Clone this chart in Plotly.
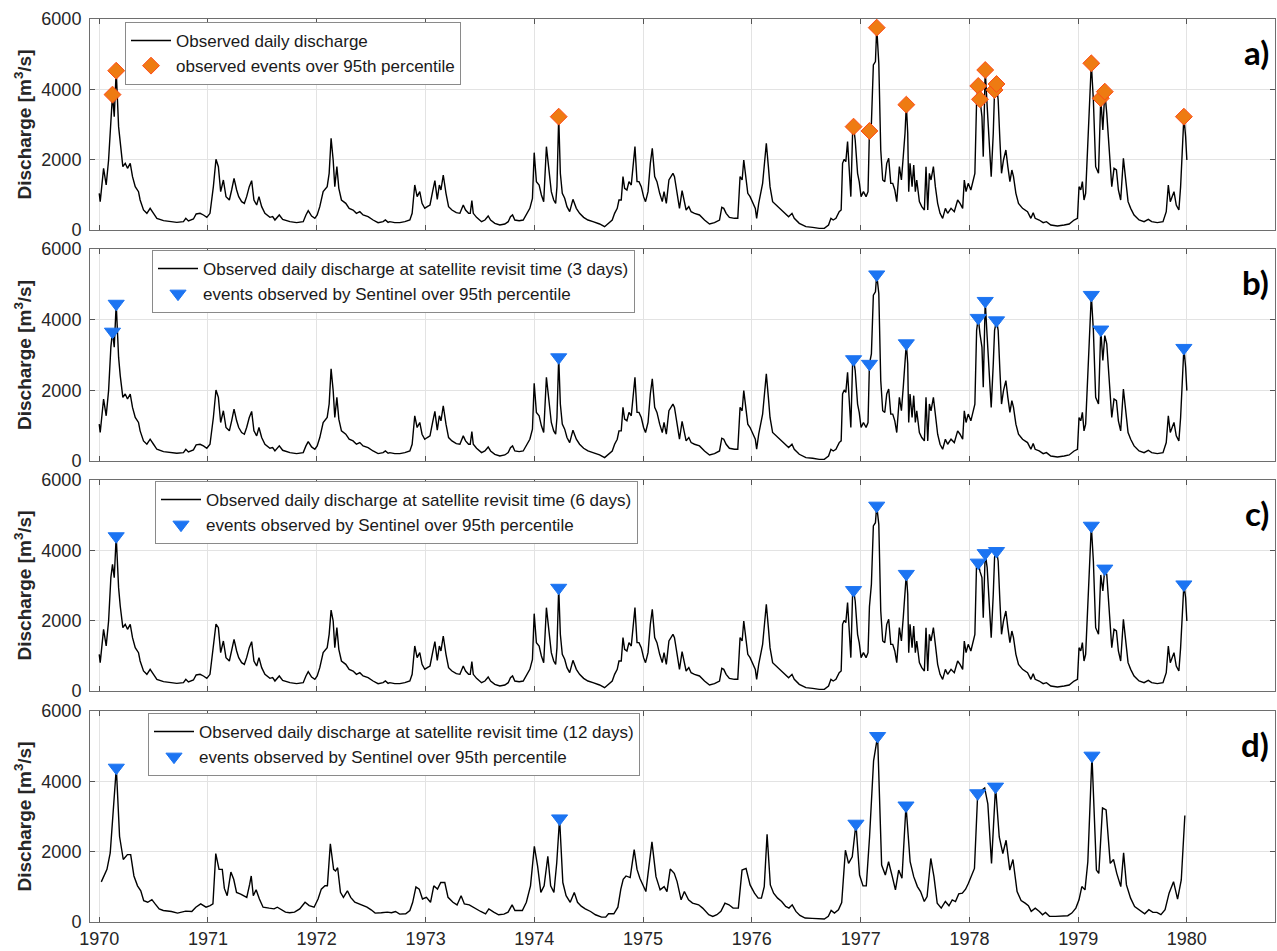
import pandas as pd
import plotly.graph_objects as go
from plotly.subplots import make_subplots

# ---------------- data (decimal year, discharge m3/s) ----------------
# Observed daily discharge
obs_t = [
 1970.000,1970.009,1970.040,1970.064,1970.086,1970.107,1970.122,1970.138,1970.156,1970.178,
 1970.193,1970.217,1970.239,1970.260,1970.285,1970.306,1970.331,1970.361,1970.376,1970.407,
 1970.438,1970.468,1970.499,1970.530,1970.591,1970.652,1970.713,1970.774,1970.796,1970.820,
 1970.866,1970.891,1970.927,1970.958,1970.989,1971.019,1971.050,1971.074,1971.096,1971.117,
 1971.142,1971.166,1971.197,1971.218,1971.240,1971.264,1971.283,1971.310,1971.335,1971.356,
 1971.380,1971.402,1971.423,1971.448,1971.469,1971.494,1971.524,1971.570,1971.595,1971.616,
 1971.656,1971.687,1971.754,1971.815,1971.876,1971.901,1971.922,1971.953,1971.983,1972.005,
 1972.029,1972.060,1972.075,1972.097,1972.115,1972.133,1972.152,1972.167,1972.186,1972.204,
 1972.228,1972.268,1972.299,1972.335,1972.366,1972.397,1972.427,1972.473,1972.519,1972.565,
 1972.611,1972.632,1972.657,1972.672,1972.718,1972.765,1972.811,1972.857,1972.878,1972.902,
 1972.924,1972.948,1972.969,1972.994,1973.015,1973.040,1973.064,1973.085,1973.107,1973.126,
 1973.141,1973.162,1973.187,1973.211,1973.242,1973.282,1973.315,1973.346,1973.367,1973.395,
 1973.410,1973.425,1973.438,1973.468,1973.514,1973.545,1973.575,1973.597,1973.636,1973.682,
 1973.728,1973.759,1973.780,1973.799,1973.820,1973.860,1973.897,1973.928,1973.958,1973.982,
 1973.998,1974.019,1974.044,1974.065,1974.086,1974.111,1974.132,1974.156,1974.178,1974.196,
 1974.208,1974.224,1974.239,1974.257,1974.279,1974.300,1974.325,1974.355,1974.386,1974.416,
 1974.453,1974.493,1974.539,1974.600,1974.646,1974.686,1974.716,1974.738,1974.762,1974.778,
 1974.799,1974.815,1974.830,1974.851,1974.870,1974.891,1974.907,1974.925,1974.944,1974.962,
 1974.983,1975.005,1975.023,1975.046,1975.067,1975.085,1975.107,1975.128,1975.153,1975.177,
 1975.193,1975.214,1975.238,1975.256,1975.275,1975.289,1975.311,1975.335,1975.359,1975.377,
 1975.396,1975.421,1975.442,1975.473,1975.519,1975.565,1975.611,1975.657,1975.703,1975.724,
 1975.742,1975.764,1975.794,1975.840,1975.871,1975.892,1975.911,1975.926,1975.941,1975.963,
 1975.984,1976.009,1976.033,1976.045,1976.064,1976.100,1976.116,1976.134,1976.153,1976.168,
 1976.192,1976.223,1976.254,1976.299,1976.339,1976.370,1976.391,1976.437,1976.498,1976.560,
 1976.621,1976.667,1976.706,1976.728,1976.749,1976.774,1976.804,1976.822,1976.835,1976.850,
 1976.865,1976.881,1976.896,1976.911,1976.927,1976.936,1976.951,1976.973,1976.988,1977.003,
 1977.025,1977.049,1977.067,1977.080,1977.098,1977.116,1977.135,1977.147,1977.166,1977.184,
 1977.202,1977.221,1977.239,1977.257,1977.276,1977.294,1977.313,1977.331,1977.355,1977.374,
 1977.392,1977.407,1977.419,1977.432,1977.441,1977.453,1977.472,1977.487,1977.502,1977.515,
 1977.539,1977.561,1977.585,1977.600,1977.616,1977.631,1977.646,1977.668,1977.686,1977.707,
 1977.729,1977.753,1977.778,1977.799,1977.830,1977.860,1977.891,1977.913,1977.937,1977.952,
 1977.968,1977.988,1978.013,1978.035,1978.050,1978.066,1978.081,1978.097,1978.115,1978.127,
 1978.145,1978.163,1978.182,1978.200,1978.219,1978.231,1978.249,1978.264,1978.280,1978.295,
 1978.313,1978.335,1978.353,1978.372,1978.390,1978.405,1978.427,1978.451,1978.488,1978.534,
 1978.565,1978.586,1978.604,1978.641,1978.678,1978.708,1978.748,1978.809,1978.871,1978.917,
 1978.962,1978.993,1979.008,1979.024,1979.039,1979.054,1979.069,1979.094,1979.121,1979.140,
 1979.161,1979.187,1979.208,1979.227,1979.245,1979.263,1979.284,1979.309,1979.330,1979.352,
 1979.370,1979.391,1979.416,1979.437,1979.459,1979.483,1979.514,1979.560,1979.606,1979.645,
 1979.676,1979.728,1979.780,1979.810,1979.829,1979.847,1979.865,1979.881,1979.902,1979.926,
 1979.942,1979.957,1979.972,1979.988,1980.000]
obs_q = [
 1043,806,1754,1280,1991,3223,3850,3223,4530,2939,
 2417,1801,1896,1754,1896,1517,1232,1090,853,569,
 474,616,474,332,265,237,218,237,332,256,
 313,455,474,427,360,474,1232,2010,1801,1090,
 1422,948,853,1138,1469,1138,948,806,758,948,
 1232,1403,853,711,948,664,474,360,379,284,
 427,303,237,209,237,427,550,398,332,427,
 664,1090,1138,1232,1612,2607,1991,1232,1801,1185,
 853,758,616,569,474,521,427,379,284,209,
 237,284,218,237,209,209,237,284,474,1280,
 948,1090,758,616,664,711,1090,1403,872,1280,
 1138,1564,1043,664,569,493,474,711,569,474,
 474,834,474,360,237,284,398,284,190,142,
 171,237,379,427,284,265,284,474,616,901,
 2199,1375,1280,995,806,2370,1706,1090,853,758,
 1232,3223,1612,1043,901,664,521,872,616,474,
 360,284,237,171,95,190,284,474,616,853,
 853,1517,1185,1138,1375,1280,1706,2370,1375,1375,
 1232,948,806,1090,1896,2323,1517,1375,1043,806,
 1090,758,1422,1517,1612,1517,1090,616,1119,806,
 569,664,521,474,427,284,171,209,284,645,
 616,474,360,332,332,1517,1422,1991,1564,1043,
 948,758,616,332,758,1327,1801,2465,1801,1232,
 806,711,616,474,379,474,332,190,95,76,
 47,47,142,332,284,332,521,569,1896,2010,
 1943,2512,1612,948,2749,2939,2560,1612,1375,948,
 1090,948,1090,2816,3034,4693,4787,5754,4740,2275,
 1422,1375,1896,2038,1327,1327,1138,806,1801,1422,
 2133,2749,3564,2749,1090,1896,1232,1849,1090,1422,
 806,664,569,1801,569,1612,1422,1801,1232,758,
 474,332,616,474,616,521,853,758,616,1422,
 1090,1327,1138,1375,1612,3697,4096,3716,3223,2086,
 4550,3508,2370,1517,2749,3982,4152,3697,2560,1612,
 1991,2275,1801,1375,1706,1517,1043,758,616,521,
 332,493,332,284,209,237,142,114,142,171,
 284,332,1232,1138,1375,853,1043,2749,4740,3697,
 1801,1612,3745,2844,3934,3318,2275,1232,1754,1706,
 1138,853,2038,1375,806,616,427,284,237,303,
 237,209,237,521,1280,806,948,1090,711,569,
 1232,2275,3223,2654,1991]

# Values at revisit instants that differ from the daily peaks (panels b and c)
rev3_t = [1970.122,1970.156,1974.224,1976.936,1977.080,1977.147,1977.419,1978.081,1978.097,
          1978.145,1978.231,1978.249,1979.121,1979.208,1979.245,1979.972]
rev3_q = [3660,4450,2935,2880,2750,5280,3330,4050,3600,4530,3700,3980,4700,3720,3550,3200]
rev6_t = [1970.122,1970.156,1971.074,1972.133,1974.224,1976.936,1977.080,1977.147,1977.419,
          1978.081,1978.097,1978.145,1978.231,1978.249,1979.121,1979.208,1979.245,1979.972]
rev6_q = [3600,4400,1900,2300,2935,2870,2400,5270,3330,3650,3400,3920,3800,3980,4700,3300,
          3480,3030]

# Observed discharge at 12-day revisit (panel d)
rev12_t = [
 1970.019,1970.071,1970.101,1970.124,1970.157,1970.187,1970.221,1970.259,1970.289,1970.319,
 1970.352,1970.382,1970.409,1970.446,1970.484,1970.514,1970.551,1970.589,1970.664,1970.720,
 1970.757,1970.795,1970.851,1970.888,1970.933,1970.982,1971.020,1971.046,1971.072,1971.102,
 1971.132,1971.151,1971.177,1971.211,1971.237,1971.263,1971.301,1971.357,1971.384,1971.398,
 1971.417,1971.443,1971.473,1971.507,1971.563,1971.608,1971.638,1971.668,1971.713,1971.751,
 1971.796,1971.844,1971.893,1971.931,1971.976,1972.013,1972.043,1972.077,1972.099,1972.126,
 1972.156,1972.174,1972.193,1972.219,1972.246,1972.283,1972.313,1972.351,1972.388,1972.426,
 1972.463,1972.501,1972.538,1972.594,1972.650,1972.688,1972.725,1972.763,1972.819,1972.857,
 1972.883,1972.913,1972.943,1972.973,1973.007,1973.045,1973.075,1973.109,1973.139,1973.176,
 1973.206,1973.251,1973.289,1973.326,1973.356,1973.401,1973.457,1973.506,1973.551,1973.581,
 1973.626,1973.671,1973.720,1973.758,1973.795,1973.821,1973.889,1973.926,1973.964,1974.000,
 1974.030,1974.060,1974.090,1974.124,1974.150,1974.180,1974.206,1974.232,1974.262,1974.292,
 1974.330,1974.367,1974.397,1974.431,1974.468,1974.517,1974.562,1974.618,1974.656,1974.682,
 1974.731,1974.768,1974.795,1974.817,1974.843,1974.881,1974.918,1974.944,1974.970,1975.026,
 1975.082,1975.119,1975.157,1975.194,1975.220,1975.250,1975.287,1975.313,1975.350,1975.380,
 1975.418,1975.455,1975.511,1975.548,1975.604,1975.641,1975.679,1975.716,1975.753,1975.790,
 1975.828,1975.876,1975.910,1975.947,1975.984,1976.025,1976.059,1976.089,1976.115,1976.141,
 1976.171,1976.201,1976.238,1976.275,1976.312,1976.342,1976.372,1976.406,1976.443,1976.491,
 1976.555,1976.611,1976.667,1976.704,1976.730,1976.760,1976.797,1976.827,1976.861,1976.890,
 1976.924,1976.958,1976.991,1977.021,1977.051,1977.081,1977.118,1977.155,1977.192,1977.226,
 1977.256,1977.290,1977.319,1977.349,1977.379,1977.416,1977.454,1977.487,1977.521,1977.550,
 1977.584,1977.610,1977.644,1977.673,1977.703,1977.740,1977.778,1977.811,1977.841,1977.871,
 1977.901,1977.934,1977.964,1977.990,1978.020,1978.046,1978.076,1978.110,1978.140,1978.169,
 1978.203,1978.240,1978.274,1978.307,1978.337,1978.371,1978.400,1978.438,1978.475,1978.512,
 1978.542,1978.568,1978.605,1978.643,1978.672,1978.699,1978.736,1978.792,1978.848,1978.904,
 1978.941,1978.978,1979.008,1979.034,1979.063,1979.089,1979.127,1979.168,1979.190,1979.224,
 1979.257,1979.295,1979.325,1979.355,1979.392,1979.418,1979.444,1979.482,1979.519,1979.564,
 1979.612,1979.650,1979.687,1979.724,1979.761,1979.799,1979.836,1979.877,1979.914,1979.948,
 1979.981]
rev12_q = [
 1141,1496,1964,2992,4388,2431,1777,1917,1917,1309,
 1029,888,608,561,636,514,374,327,299,252,
 281,309,299,421,514,421,468,514,1945,1496,
 1496,954,748,1421,1216,842,795,701,1075,1309,
 748,916,655,421,393,374,421,355,281,262,
 281,374,561,468,421,655,935,1029,1029,2225,
 1496,1449,1543,842,701,888,701,561,514,468,
 421,346,252,262,281,262,299,224,234,327,
 561,1000,935,655,701,561,1029,935,1122,1122,
 701,561,486,748,514,486,374,299,234,374,
 281,206,224,281,486,327,327,561,1029,2151,
 1590,842,1029,1870,1029,842,1683,2945,1122,748,
 561,842,561,449,374,299,206,140,140,234,
 234,421,935,1216,1309,1262,2057,1496,1242,866,
 2277,1289,913,1007,866,1506,1383,1148,630,866,
 630,536,489,395,207,160,207,301,536,489,
 395,395,1477,1524,1054,819,678,678,1007,2494,
 1054,819,678,583,442,395,489,301,188,113,
 104,85,85,160,329,254,348,555,2042,1666,
 1854,2795,1336,1026,1026,2418,4583,5288,1619,1336,
 1713,1289,913,1477,1242,3312,1713,1289,1007,866,
 583,724,1807,1289,536,395,583,461,630,583,
 800,819,932,1101,1336,1524,3660,3736,3811,3359,
 1666,3850,2418,1948,2324,1477,1778,866,612,536,
 461,301,395,301,207,273,160,160,179,179,
 254,395,630,1007,913,1713,4730,1477,1383,3246,
 3190,1666,1778,1383,1007,1967,1054,678,442,348,
 235,348,273,273,207,348,819,1148,649,1195,
 3030]

# Events over the 95th percentile
ev_a_t = [1970.122,1970.156,1974.224,1976.936,1977.080,1977.147,1977.419,1978.081,1978.097,
          1978.145,1978.231,1978.249,1979.121,1979.208,1979.245,1979.972]
ev_a_q = [3850,4530,3223,2939,2816,5754,3564,4096,3716,4550,3982,4152,4740,3745,3934,3223]
ev_b_t = [1970.122,1970.156,1974.224,1976.936,1977.080,1977.147,1977.419,1978.081,1978.145,
          1978.249,1979.121,1979.208,1979.972]
ev_b_q = [3660,4450,2935,2880,2750,5280,3330,4050,4530,3980,4700,3720,3200]
ev_c_t = [1970.156,1974.224,1976.936,1977.147,1977.419,1978.081,1978.145,1978.249,1979.121,
          1979.245,1979.972]
ev_c_q = [4400,2935,2870,5270,3330,3650,3920,3980,4700,3480,3030]
ev_d_t = [1970.157,1974.232,1976.958,1977.155,1977.416,1978.076,1978.240,1979.127]
ev_d_q = [4388,2945,2795,5288,3312,3660,3850,4730]

panel_labels = ["a)", "b)", "c)", "d)"]
line_names = ["Observed daily discharge",
              "Observed daily discharge at satellite revisit time (3 days)",
              "Observed daily discharge at satellite revisit time (6 days)",
              "Observed daily discharge at satellite revisit time (12 days)"]
event_names = ["observed events over 95th percentile",
               "events observed by Sentinel over 95th percentile",
               "events observed by Sentinel over 95th percentile",
               "events observed by Sentinel over 95th percentile"]


# ---------------- helpers ----------------
def to_dates(ys):
    out = []
    for y in ys:
        yr = int(y + 1e-9)
        out.append(pd.Timestamp(yr, 1, 1) + pd.Timedelta(days=(y - yr) * 365.25))
    return out


def with_revisit(base_t, base_q, fix_t, fix_q):
    fix = dict(zip(fix_t, fix_q))
    return [fix.get(t, q) for t, q in zip(base_t, base_q)]


series = [
    (obs_t, obs_q),
    (obs_t, with_revisit(obs_t, obs_q, rev3_t, rev3_q)),
    (obs_t, with_revisit(obs_t, obs_q, rev6_t, rev6_q)),
    (rev12_t, rev12_q),
]
events = [(ev_a_t, ev_a_q), (ev_b_t, ev_b_q), (ev_c_t, ev_c_q), (ev_d_t, ev_d_q)]

# ---------------- figure ----------------
W, H = 1277, 951
ML, MR, MT, MB = 90, 2, 19, 29
PH = H - MT - MB
panel_px = [(19, 230), (249, 461), (480, 691), (711, 922)]
domains = [((H - MB - b) / PH, (H - MB - t) / PH) for t, b in panel_px]

fig = make_subplots(rows=4, cols=1, shared_xaxes=True, vertical_spacing=0.02)

legend_ids = ["legend", "legend2", "legend3", "legend4"]
legend_pos = [(125, 22), (152, 250), (155, 481), (148, 713)]
font_fam = "Liberation Sans, Arial, sans-serif"
txt_col = "#262626"

for i in range(4):
    st, sq = series[i]
    et, eq = events[i]
    fig.add_trace(go.Scatter(x=to_dates(st), y=sq, mode="lines", name=line_names[i],
                             line=dict(color="black", width=1.4),
                             legend=legend_ids[i]), row=i + 1, col=1)
    if i == 0:
        mk = dict(symbol="diamond", size=13, color="#EE7B12",
                  line=dict(color="#FF4A1A", width=1))
    else:
        mk = dict(symbol="triangle-down", size=14, color="#1C74F2",
                  line=dict(color="#1C74F2", width=1))
    fig.add_trace(go.Scatter(x=to_dates(et), y=eq, mode="markers", name=event_names[i],
                             marker=mk, legend=legend_ids[i]), row=i + 1, col=1)

plot_w = W - ML - MR
layout_leg = {}
for i, lid in enumerate(legend_ids):
    px, py = legend_pos[i]
    layout_leg[lid] = dict(x=(px - ML) / plot_w, y=(H - MB - py) / PH,
                           xanchor="left", yanchor="top",
                           bgcolor="white", bordercolor="#8a8a8a", borderwidth=1,
                           font=dict(family=font_fam, size=17, color="#1a1a1a"),
                           itemwidth=40, tracegroupgap=0)

fig.update_layout(width=W, height=H, margin=dict(l=ML, r=MR, t=MT, b=MB),
                  plot_bgcolor="white", paper_bgcolor="white",
                  showlegend=True, **layout_leg)

for i in range(4):
    yname = "yaxis" if i == 0 else f"yaxis{i+1}"
    xname = "xaxis" if i == 0 else f"xaxis{i+1}"
    fig.layout[yname].domain = domains[i]
    fig.layout[xname].domain = (0, 1)

fig.update_xaxes(type="date", range=["1969-12-01", "1980-10-23"],
                 dtick="M12", tick0="1970-01-01", tickformat="%Y",
                 showgrid=True, gridcolor="#e3e3e3", gridwidth=1,
                 ticks="inside", ticklen=5, tickcolor="#555555",
                 showline=True, linecolor="#6e6e6e", linewidth=1, mirror="ticks",
                 tickfont=dict(family=font_fam, size=18, color=txt_col))
fig.update_yaxes(range=[0, 6000], tickvals=[0, 2000, 4000, 6000],
                 showgrid=True, gridcolor="#e3e3e3", gridwidth=1, zeroline=False,
                 ticks="inside", ticklen=5, tickcolor="#555555",
                 showline=True, linecolor="#6e6e6e", linewidth=1, mirror="ticks",
                 tickfont=dict(family=font_fam, size=18, color=txt_col),
                 ticklabelstandoff=4,
                 title=dict(text="<b>Discharge [m<sup>3</sup>/s]</b>",
                            font=dict(family=font_fam, size=19, color=txt_col),
                            standoff=4))

for i, (t, b) in enumerate(panel_px):
    fig.add_annotation(text=f"<b>{panel_labels[i]}</b>", xref="paper", yref="paper",
                       x=(1271 - ML) / plot_w, y=(H - MB - (t + 33)) / PH,
                       xanchor="right", yanchor="middle", showarrow=False,
                       font=dict(family="Lato, sans-serif", size=33, color="black"))

fig.write_html("out.html", config={"displayModeBar": False},
               post_script="document.body.style.margin='0';document.body.style.overflow='hidden';")
